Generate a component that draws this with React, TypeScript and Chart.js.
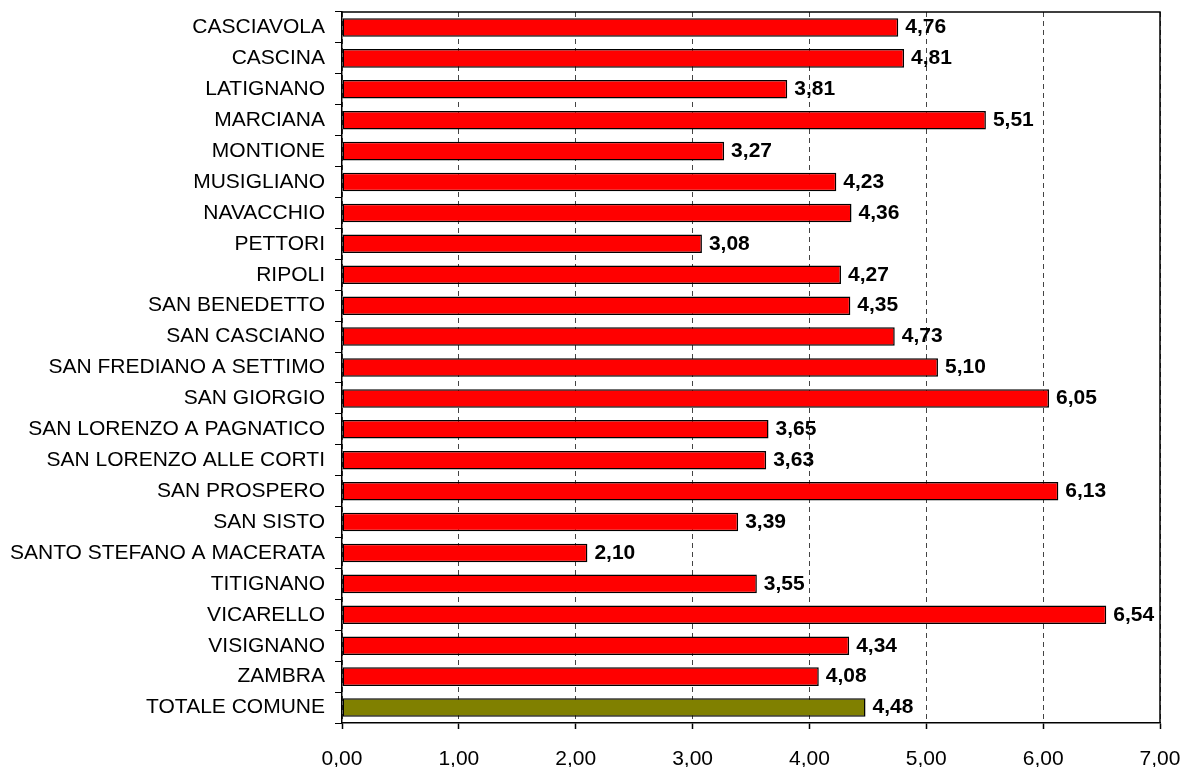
import React, { useEffect, useRef } from "react";
import { Chart, registerables } from "chart.js";

Chart.register(...registerables);

const categories = [
  "CASCIAVOLA",
  "CASCINA",
  "LATIGNANO",
  "MARCIANA",
  "MONTIONE",
  "MUSIGLIANO",
  "NAVACCHIO",
  "PETTORI",
  "RIPOLI",
  "SAN BENEDETTO",
  "SAN CASCIANO",
  "SAN FREDIANO A SETTIMO",
  "SAN GIORGIO",
  "SAN LORENZO A PAGNATICO",
  "SAN LORENZO ALLE CORTI",
  "SAN PROSPERO",
  "SAN SISTO",
  "SANTO STEFANO A MACERATA",
  "TITIGNANO",
  "VICARELLO",
  "VISIGNANO",
  "ZAMBRA",
  "TOTALE COMUNE",
];

const values = [
  4.76, 4.81, 3.81, 5.51, 3.27, 4.23, 4.36, 3.08, 4.27, 4.35, 4.73, 5.1, 6.05,
  3.65, 3.63, 6.13, 3.39, 2.1, 3.55, 6.54, 4.34, 4.08, 4.48,
];

const xMin = 0;
const xMax = 7;
const xStep = 1;

const fmt = (v: number) => v.toFixed(2).replace(".", ",");
const FAMILY = "'Liberation Sans', Arial, sans-serif";

export default function App() {
  const ref = useRef<HTMLCanvasElement | null>(null);

  useEffect(() => {
    if (!ref.current) return;
    const colors = categories.map((c) =>
      c === "TOTALE COMUNE" ? "#808000" : "#FF0000"
    );

    const labelPlugin = {
      id: "valueLabels",
      afterDatasetsDraw(chart: any) {
        const ctx = chart.ctx;
        const meta = chart.getDatasetMeta(0);
        ctx.save();
        ctx.font = `bold 21px ${FAMILY}`;
        ctx.fillStyle = "#000";
        ctx.textAlign = "left";
        ctx.textBaseline = "middle";
        meta.data.forEach((bar: any, i: number) => {
          ctx.fillText(fmt(values[i]), bar.x + 7, bar.y);
        });
        ctx.restore();
      },
    };

    const framePlugin = {
      id: "frame",
      afterDraw(chart: any) {
        const { ctx, chartArea } = chart;
        ctx.save();
        ctx.strokeStyle = "#000";
        ctx.lineWidth = 1.5;
        ctx.beginPath();
        ctx.moveTo(chartArea.left, chartArea.top);
        ctx.lineTo(chartArea.right, chartArea.top);
        ctx.lineTo(chartArea.right, chartArea.bottom);
        ctx.stroke();
        ctx.restore();
      },
    };

    const chart = new Chart(ref.current, {
      type: "bar",
      data: {
        labels: categories,
        datasets: [
          {
            data: values,
            backgroundColor: colors,
            borderColor: "#000",
            borderWidth: 1.5,
            borderSkipped: false,
            barPercentage: 0.6,
            categoryPercentage: 1,
          },
        ],
      },
      options: {
        indexAxis: "y",
        animation: false,
        responsive: false,
        maintainAspectRatio: false,
        layout: {
          autoPadding: false,
          padding: { top: 12, right: 24, left: 0, bottom: 0 },
        },
        plugins: {
          legend: { display: false },
          tooltip: { enabled: false },
        },
        scales: {
          x: {
            min: xMin,
            max: xMax,
            ticks: {
              stepSize: xStep,
              callback: (v: any) => fmt(Number(v)),
              color: "#000",
              font: { family: FAMILY, size: 21 },
              padding: 18,
              maxRotation: 0,
            },
            grid: {
              display: true,
              drawOnChartArea: true,
              color: "#444",
              lineWidth: 1,
              tickColor: "#000",
              tickLength: 6,
              tickBorderDash: [],
              tickWidth: 1.5,
            },
            border: { display: true, color: "#000", width: 1.5, dash: [5, 4] },
            afterFit(scale: any) {
              scale.height = 44;
              scale.paddingLeft = 0;
              scale.paddingRight = 0;
              scale.paddingTop = 0;
              scale.paddingBottom = 0;
            },
          },
          y: {
            ticks: {
              color: "#000",
              font: { family: FAMILY, size: 21 },
              padding: 10,
              autoSkip: false,
            },
            grid: {
              display: true,
              drawOnChartArea: false,
              offset: true,
              color: "#000",
              tickLength: 7,
              tickWidth: 1,
            },
            border: { display: true, color: "#000", width: 1.5 },
            afterFit(scale: any) {
              scale.width = 342;
              scale.paddingLeft = 0;
              scale.paddingRight = 0;
              scale.paddingTop = 0;
              scale.paddingBottom = 0;
            },
          },
        },
      },
      plugins: [labelPlugin, framePlugin],
    });
    return () => chart.destroy();
  }, []);

  return (
    <div
      style={{
        position: "fixed",
        left: 0,
        top: 0,
        width: 1184,
        height: 767,
        background: "#fff",
      }}
    >
      <canvas ref={ref} width={1184} height={767} />
    </div>
  );
}
